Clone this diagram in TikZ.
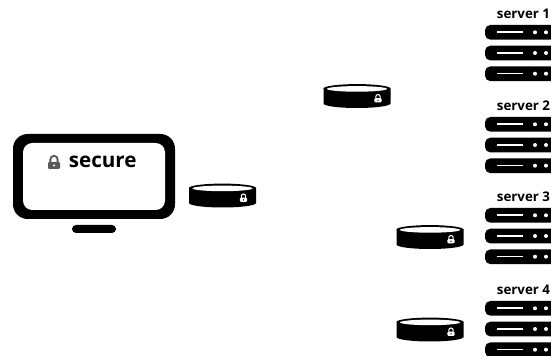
\documentclass[tikz,border=0pt]{standalone}
\usepackage{fontspec}
\setmainfont{Open Sans}
\usepackage{tikz}

\tikzset{
  serverbar/.style={fill=black, rounded corners=4pt},
  label/.style={font=\bfseries\fontsize{10}{12}\selectfont, anchor=base, inner sep=0pt},
  pics/lock/.style 2 args={code={
      \fill[#1, rounded corners=0.8pt] (-6,-1) rectangle (6,6);
      \draw[#1] (-3.6,0) -- (-3.6,-3.6) arc (180:360:3.6) -- (3.6,0);
      \fill[#2] (0,2.5) circle (1.2);
  }},
  pics/token/.style={code={
      \fill[black] (-33.5,0) -- (-33.5,15) arc (180:0:33.5 and 4.5) -- (33.5,0) -- cycle;
      \fill[black] (0,0) ellipse (33.5 and 4.4);
      \fill[white] (0,0.4) ellipse (30 and 2.8);
      \pic[scale=0.6, line width=0.8pt] at (21,10.3) {lock={white}{black}};
  }}
}

\begin{document}
\begin{tikzpicture}[x=0.75pt, y=-0.75pt]
      \clip (0,0) rectangle (551,356);
      \fill[white] (0,0) rectangle (551,356);

      % monitor
      \fill[black, rounded corners=11pt] (13,134) rectangle (175,219);
      \fill[white, rounded corners=7pt] (23,143) rectangle (165,210);
      \fill[black, rounded corners=3pt] (72,225) rectangle (116,233);
      \pic[line width=1.4pt] at (54,163) {lock={black!65}{white}};
      \node[anchor=base west, inner sep=0pt, font=\bfseries\fontsize{15.5}{18}\selectfont] (secure) at (68.5,167.5) {secure};

      % tokens
      \pic at (222.5,188) {token};
      \pic at (357,88.5) {token};
      \pic at (430,229.5) {token};
      \pic at (430,322) {token};

      % servers
      \foreach \n/\ty in {1/25, 2/117, 3/208, 4/301} {
        \node[label] (server\n) at (523.5,\ty-6.5) {server \n};
        \foreach \k in {0,1,2} {
          \fill[serverbar] (485,\ty+\k*20.7) rectangle (580,\ty+\k*20.7+14.7);
          \draw[white, line width=1.2pt] (497,\ty+\k*20.7+7.3) -- (523,\ty+\k*20.7+7.3);
          \fill[white] (535,\ty+\k*20.7+7.3) circle (2);
          \fill[white] (546,\ty+\k*20.7+7.3) circle (2);
        }
      }
\end{tikzpicture}
\end{document}
